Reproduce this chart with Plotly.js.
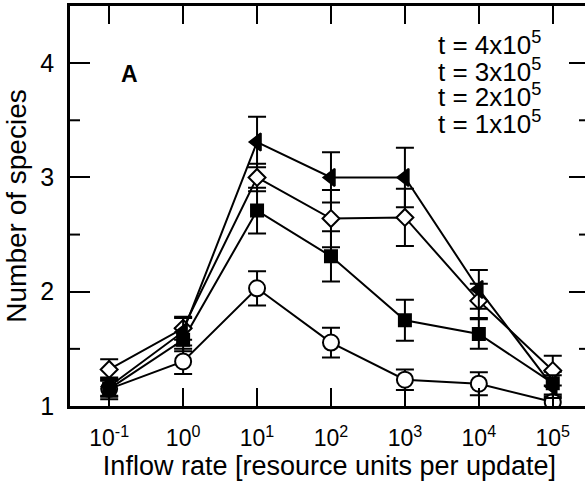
<!DOCTYPE html>
<html>
<head>
<meta charset="utf-8">
<script src="https://cdn.plot.ly/plotly-3.0.1.min.js"></script>
<style>
html,body{margin:0;padding:0;overflow:hidden;background:#fff;}
#chart{width:595px;height:487px;}
</style>
</head>
<body>
<div id="chart"></div>
<script>
// Inflow rate (resource units per update)
const inflow = [0.1, 1, 10, 100, 1000, 10000, 100000];
const xTickVals = [0.1, 1, 10, 100, 1000, 10000, 100000];
const xTickText = ["10<sup>-1</sup>", "10<sup>0</sup>", "10<sup>1</sup>", "10<sup>2</sup>", "10<sup>3</sup>", "10<sup>4</sup>", "10<sup>5</sup>"];
const yTickVals = [1, 2, 3, 4];
const yMinorVals = [1.5, 2.5, 3.5];
const seriesNames = ["t = 4x10<sup>5</sup>", "t = 3x10<sup>5</sup>", "t = 2x10<sup>5</sup>", "t = 1x10<sup>5</sup>"];

const t4 = [1.17, 1.65, 3.31, 3.00, 3.00, 2.02, 1.17];
const t4err = [0.08, 0.12, 0.22, 0.22, 0.26, 0.17, 0.10];
const t3 = [1.32, 1.68, 3.00, 2.64, 2.65, 1.92, 1.31];
const t3err = [0.09, 0.10, 0.12, 0.25, 0.25, 0.15, 0.13];
const t2 = [1.15, 1.58, 2.71, 2.31, 1.75, 1.63, 1.20];
const t2err = [0.09, 0.10, 0.20, 0.22, 0.18, 0.13, 0.10];
const t1 = [1.15, 1.39, 2.03, 1.555, 1.23, 1.195, 1.035];
const t1err = [0.07, 0.11, 0.15, 0.13, 0.09, 0.10, 0.05];

const xRange = [-1.53, 5.49];
const yRange = [1, 4.5];

function mk(y, err, symbol, fill, size) {
  return {
    x: inflow, y: y, name: ' ', type: 'scatter', mode: 'lines+markers', showlegend: false,
    line: {color: '#000', width: 2},
    marker: {symbol: symbol, size: size, color: fill, line: {color: '#000', width: 2}},
    error_y: {type: 'data', array: err, visible: true, color: '#000', thickness: 2, width: 9}
  };
}
const data = [
  mk(t1, t1err, 'circle', '#fff', 16),
  mk(t2, t2err, 'square', '#000', 12),
  mk(t3, t3err, 'diamond', '#fff', 13),
  mk(t4, t4err, 'triangle-left', '#000', 15)
];

const font = 'Liberation Sans, Arial, Helvetica, sans-serif';

// minor ticks on left and right frame, from the minor tick value array
const tickLine = {color: '#000', width: 2};
const shapes = [];
yMinorVals.forEach(v => {
  const py = (v - yRange[0]) / (yRange[1] - yRange[0]);
  shapes.push({type: 'line', xref: 'paper', yref: 'paper', y0: py, y1: py,
    xsizemode: 'pixel', xanchor: 0, x0: 0, x1: 10, line: tickLine});
  shapes.push({type: 'line', xref: 'paper', yref: 'paper', y0: py, y1: py,
    xsizemode: 'pixel', xanchor: 1, x0: 0, x1: -10, line: tickLine});
});

const legendRowsY = [0.905, 0.84, 0.775, 0.71];
const annotations = seriesNames.map((s, i) => ({
  text: s, xref: 'paper', yref: 'paper', x: 0.705, y: legendRowsY[i],
  xanchor: 'left', yanchor: 'middle', showarrow: false,
  font: {family: font, size: 26, color: '#000'}
}));
annotations.push({
  text: '<b>A</b>', xref: 'paper', yref: 'paper', x: 0.115, y: 0.83,
  xanchor: 'center', yanchor: 'middle', showarrow: false,
  font: {family: font, size: 23, color: '#000'}
});

const layout = {
  width: 595, height: 487,
  margin: {l: 70, r: 6, t: 6, b: 81},
  paper_bgcolor: '#fff', plot_bgcolor: 'rgba(0,0,0,0)',
  font: {family: font, color: '#000', size: 22},
  showlegend: false,
  xaxis: {
    type: 'log', range: xRange,
    tickmode: 'array', tickvals: xTickVals, ticktext: xTickText,
    ticks: 'inside', ticklen: 18, tickwidth: 2, tickcolor: '#000', mirror: 'ticks',
    showline: true, linewidth: 2.5, linecolor: '#000',
    showgrid: false, zeroline: false,
    tickfont: {family: font, size: 23},
    ticklabelstandoff: 10,
    title: {text: 'Inflow rate [resource units per update]', font: {family: font, size: 27}, standoff: 2}
  },
  yaxis: {
    range: yRange, tickmode: 'array', tickvals: yTickVals, ticktext: yTickVals.map(String),
    ticks: 'inside', ticklen: 20, tickwidth: 2, tickcolor: '#000', mirror: 'ticks',
    showline: true, linewidth: 2.5, linecolor: '#000',
    showgrid: false, zeroline: false,
    tickfont: {family: font, size: 25},
    ticklabelstandoff: 8,
    title: {text: 'Number of species', font: {family: font, size: 28}, standoff: 6}
  },
  shapes: shapes,
  annotations: annotations
};
Plotly.newPlot('chart', data, layout, {displayModeBar: false});
</script>
</body>
</html>
